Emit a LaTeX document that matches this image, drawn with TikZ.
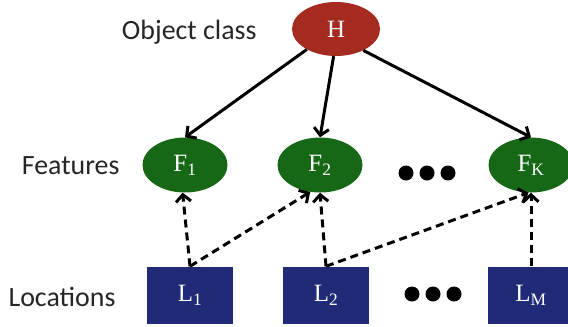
\documentclass[tikz,border=0pt]{standalone}
\usepackage{fontspec}
\setmainfont{Liberation Serif}
\newfontfamily\rowfont{Carlito}
\usepackage{xcolor}
\usetikzlibrary{shapes, arrows.meta, positioning, calc}
\definecolor{classred}{RGB}{165,42,32}
\definecolor{featgreen}{RGB}{22,104,22}
\definecolor{locblue}{RGB}{32,42,118}

\begin{document}
\begin{tikzpicture}[
    x=1bp, y=-1bp,
    cls/.style={ellipse, fill=classred, text=white, minimum width=88bp, minimum height=54bp, inner sep=0pt, font=\fontsize{25}{27}\selectfont},
    feat/.style={ellipse, fill=featgreen, text=white, minimum width=85bp, minimum height=55bp, inner sep=0pt, font=\fontsize{25}{27}\selectfont},
    loc/.style={rectangle, fill=locblue, text=white, minimum width=86bp, minimum height=57bp, inner sep=0pt, font=\fontsize{25}{27}\selectfont},
    rowlabel/.style={anchor=east, text=black!85, font=\rowfont\fontsize{28}{30}\selectfont},
    line/.style={draw, line width=3bp, -{Straight Barb[length=7bp, width=15bp, line width=3bp]}},
    dline/.style={line, dash pattern=on 8bp off 5bp}
]
\useasboundingbox (0,0) rectangle (568,326);

% Row labels
\node[rowlabel] (classlab) at (260,32) {Object class};
\node[rowlabel] (featlab) at (123,166) {Features};
\node[rowlabel] (loclab) at (119,297) {Locations};

% Nodes
\node[cls] (H) at (336,29) {H};
\node[feat] (F1) at (185,165) {F\textsubscript{1}};
\node[feat] (F2) at (320,165) {F\textsubscript{2}};
\node[feat] (FK) at (531,165) {F\textsubscript{K}};
\node[loc] (L1) at (190,295) {L\textsubscript{1}};
\node[loc] (L2) at (326,295) {L\textsubscript{2}};
\node[loc] (LM) at (531,295) {L\textsubscript{M}};

% Dots
\foreach \x in {406,427,448} \fill (\x,173) circle (7.5bp);
\foreach \x in {412,433,454} \fill (\x,294) circle (7.5bp);

% Paths
\path[line] (H.215) -- (F1.north);
\path[line] (H.265) -- (F2.north);
\path[line] (H.322) -- (FK.north);
\path[dline] (L1.north) -- (F1.265);
\path[dline] (L1.north) -- (F2.250);
\path[dline] (L2.north) -- (F2.south);
\path[dline] (L2.north) -- (FK.265);
\path[dline] (LM.north) -- (FK.south);

\end{tikzpicture}
\end{document}
